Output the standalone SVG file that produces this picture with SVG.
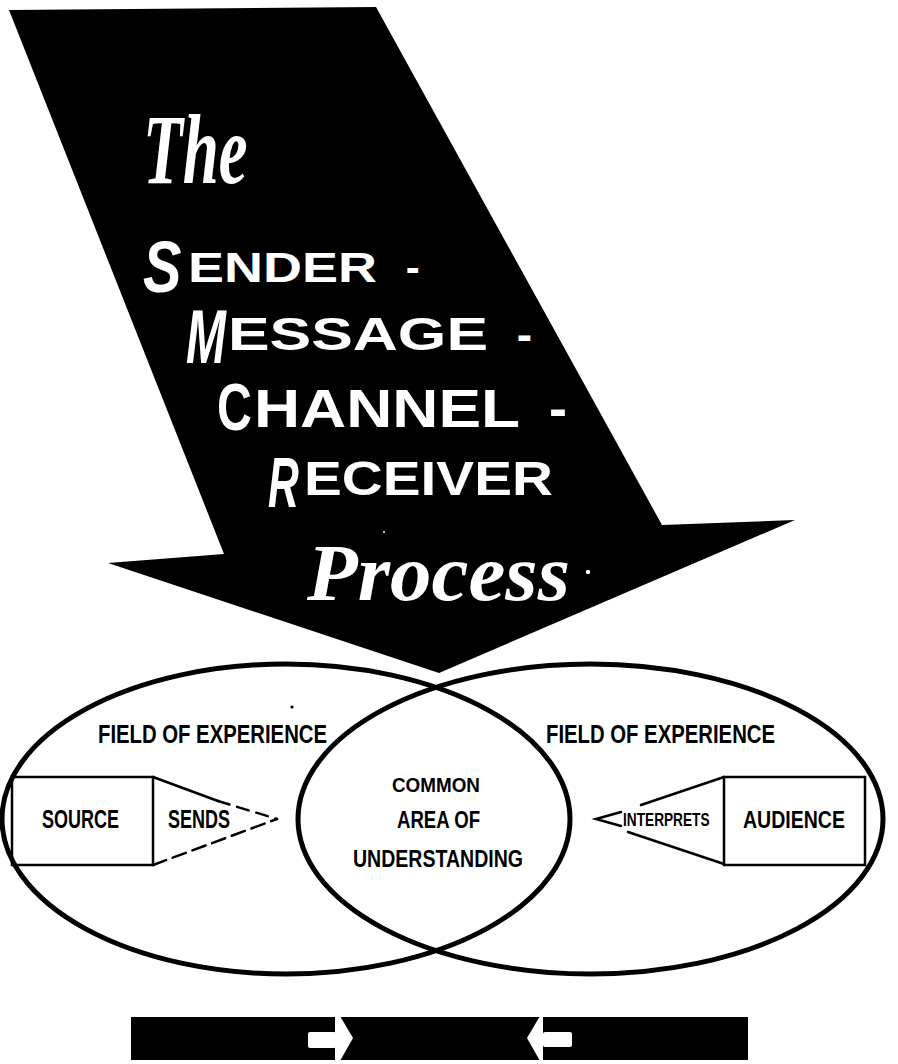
<svg xmlns="http://www.w3.org/2000/svg" width="898" height="1064" viewBox="0 0 898 1064">
<style>
.bg{fill:#ffffff}
.blk{fill:#000000}
.wht{fill:#ffffff}
.ttl{font-family:"Liberation Sans","DejaVu Sans",sans-serif;font-weight:bold;fill:#ffffff}
.scr{font-family:"Liberation Serif","DejaVu Serif",serif;font-weight:bold;font-style:italic;fill:#ffffff}
.lbl{font-family:"Liberation Sans","DejaVu Sans",sans-serif;font-weight:bold;fill:#000000}
.ell{fill:none;stroke:#000000;stroke-width:5}
.box{fill:none;stroke:#000000;stroke-width:2.5}
.ptr{fill:none;stroke:#000000;stroke-width:2.5;stroke-linecap:round}
</style>
<rect class="bg" x="0" y="0" width="898" height="1064"/>

<g id="big-arrow">
  <polygon class="blk" points="9,10 376,7 582,380 662,525 795,520 439,673 108,563 224,554"/>
  <circle class="wht" cx="384" cy="532" r="1"/>
</g>

<g id="title">
  <text class="scr" transform="translate(143,183) scale(0.65,1)" font-size="100">The</text>
  <text class="ttl" transform="translate(143,292) scale(0.8,1)" font-size="72" font-style="italic">S</text>
  <text class="ttl"><tspan x="188" y="282" font-size="42" textLength="189" lengthAdjust="spacingAndGlyphs">ENDER</tspan><tspan x="394" y="282" font-size="42"> -</tspan></text>
  <text class="ttl" transform="translate(186,363) scale(0.63,1)" font-size="76" font-style="italic">M</text>
  <text class="ttl"><tspan x="228" y="350" font-size="46" textLength="260" lengthAdjust="spacingAndGlyphs">ESSAGE</tspan><tspan x="504" y="350" font-size="46"> -</tspan></text>
  <text class="ttl" transform="translate(217,430) scale(0.73,1)" font-size="66">C</text>
  <text class="ttl"><tspan x="254" y="427" font-size="54" textLength="266" lengthAdjust="spacingAndGlyphs">HANNEL</tspan><tspan x="534" y="427" font-size="54"> -</tspan></text>
  <text class="ttl" transform="translate(268,507) scale(0.61,1)" font-size="70" font-style="italic">R</text>
  <text class="ttl" x="304" y="495" font-size="49" textLength="249" lengthAdjust="spacingAndGlyphs">ECEIVER</text>
  <text class="scr" x="307" y="600" font-size="80" textLength="263" lengthAdjust="spacingAndGlyphs">Process</text>
  <circle class="wht" cx="588" cy="572" r="2.2"/>
</g>

<g id="field-left">
  <ellipse class="ell" cx="286" cy="819" rx="284" ry="155"/>
  <text class="lbl" x="98" y="743" font-size="25" textLength="229" lengthAdjust="spacingAndGlyphs">FIELD OF EXPERIENCE</text>
  <circle class="blk" cx="292" cy="707" r="1.6"/>
</g>

<g id="field-right">
  <ellipse class="ell" cx="590.5" cy="819" rx="292.5" ry="155"/>
  <text class="lbl" x="546" y="743" font-size="25" textLength="229" lengthAdjust="spacingAndGlyphs">FIELD OF EXPERIENCE</text>
</g>

<g id="common">
  <text class="lbl" x="392" y="792" font-size="21" textLength="88" lengthAdjust="spacingAndGlyphs">COMMON</text>
  <text class="lbl" x="397" y="828" font-size="23" textLength="83" lengthAdjust="spacingAndGlyphs">AREA OF</text>
  <text class="lbl" x="353" y="867" font-size="24" textLength="170" lengthAdjust="spacingAndGlyphs">UNDERSTANDING</text>
</g>

<g id="source">
  <rect class="box" x="12" y="777" width="141" height="88"/>
  <text class="lbl" x="42" y="828" font-size="25" textLength="77" lengthAdjust="spacingAndGlyphs">SOURCE</text>
</g>

<g id="sends">
  <text class="lbl" x="168" y="828" font-size="25" textLength="62" lengthAdjust="spacingAndGlyphs">SENDS</text>
</g>

<g id="audience">
  <rect class="box" x="724" y="777" width="141" height="88"/>
  <text class="lbl" x="743" y="828" font-size="24" textLength="102" lengthAdjust="spacingAndGlyphs">AUDIENCE</text>
</g>

<g id="interprets">
  <text class="lbl" transform="translate(623,826) scale(0.76,1)" font-size="18">INTERPRETS</text>
</g>

<g id="connectors">
  <line class="ptr" x1="153" y1="777" x2="218" y2="801"/>
  <line class="ptr" x1="218" y1="801" x2="277" y2="819" stroke-dasharray="12,8"/>
  <line class="ptr" x1="153" y1="865" x2="277" y2="819" stroke-dasharray="14,7"/>
  <line class="ptr" x1="724" y1="777" x2="641" y2="805"/>
  <polyline class="ptr" points="621,812 596,819 621,826"/>
  <line class="ptr" x1="724" y1="864" x2="628" y2="832"/>
</g>

<g id="bar">
  <rect class="blk" x="131" y="1017" width="617" height="43"/>
  <rect class="wht" x="308" y="1032" width="28" height="16" rx="2"/>
  <polygon class="wht" points="335,1016 340,1016 353,1038 340,1061 335,1061"/>
  <polygon class="wht" points="543,1016 540,1016 527,1038 540,1061 543,1061"/>
  <rect class="wht" x="543" y="1032" width="29" height="15" rx="2"/>
</g>
</svg>
